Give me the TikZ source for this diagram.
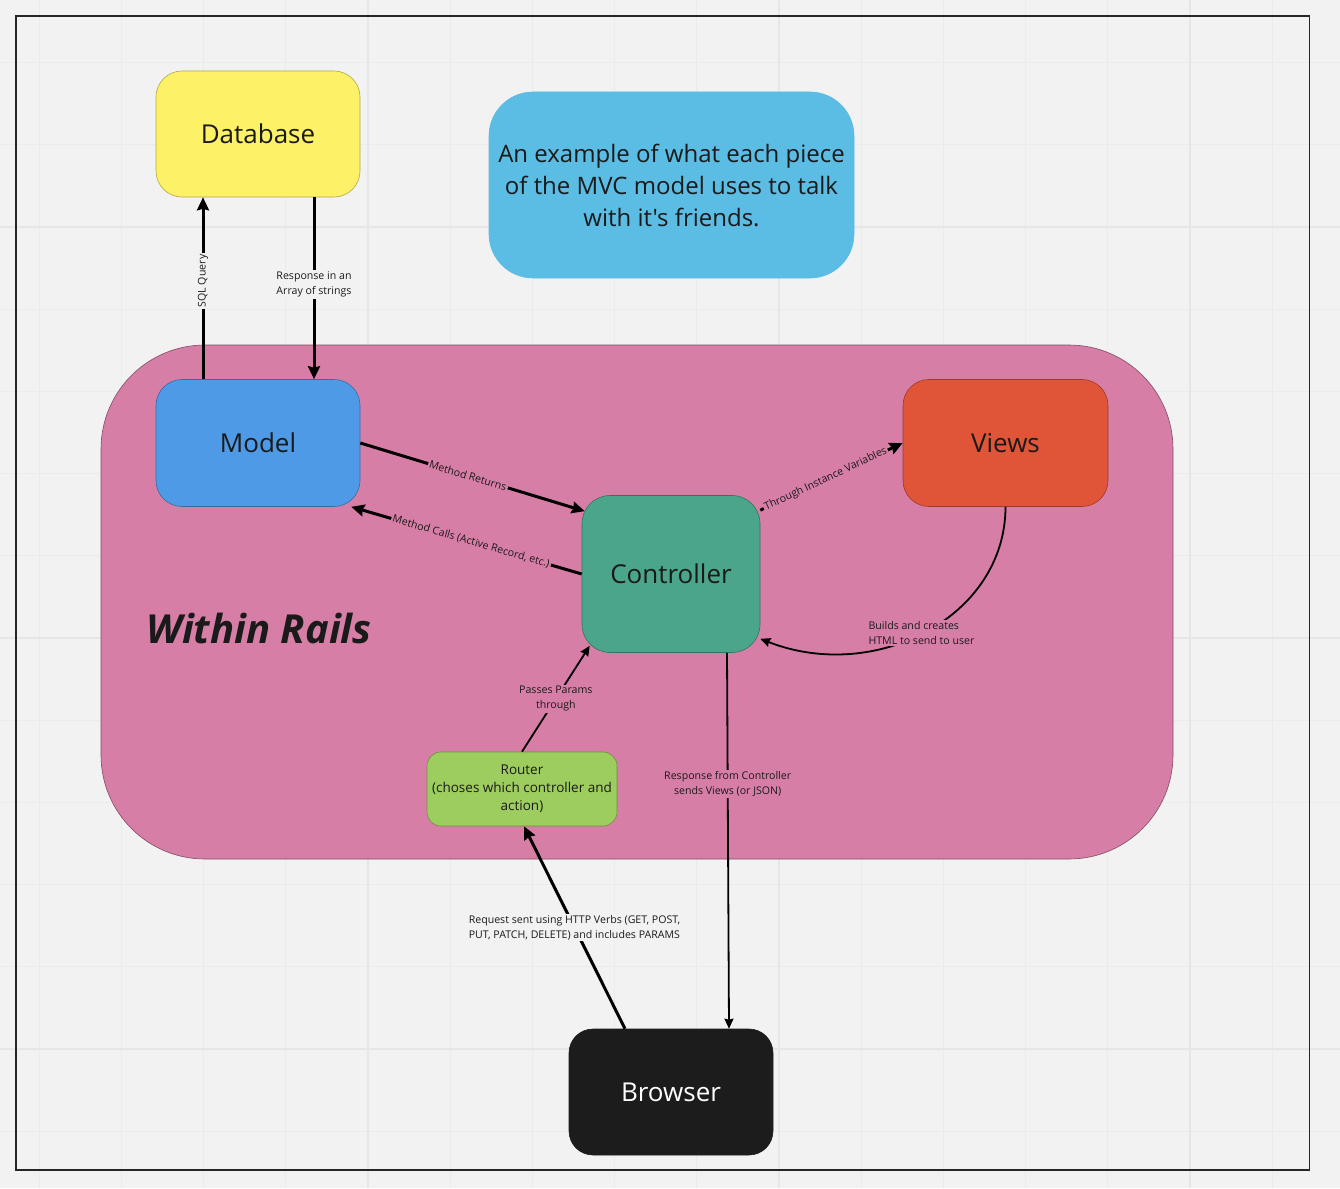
\documentclass[tikz,border=0pt]{standalone}
\usepackage{fontspec}
\setmainfont{Open Sans}[Ligatures=TeXOff]
\usetikzlibrary{arrows.meta,calc}
\definecolor{bgc}{HTML}{F2F2F2}
\definecolor{gridfine}{HTML}{EBEBEB}
\definecolor{gridmain}{HTML}{E6E6E6}
\definecolor{dbc}{HTML}{FDF167}
\definecolor{infoc}{HTML}{5BBCE4}
\definecolor{railsc}{HTML}{D77EA6}
\definecolor{modelc}{HTML}{4F9AE6}
\definecolor{viewsc}{HTML}{E05437}
\definecolor{ctrlc}{HTML}{4BA58B}
\definecolor{routerc}{HTML}{9CCD5E}
\definecolor{browserc}{HTML}{1C1C1C}
\definecolor{txt}{HTML}{1A1A1A}
\tikzset{
  box/.style={rectangle, rounded corners=#1, inner sep=0pt, draw, line width=0.6pt, text=txt, align=center},
  box/.default=24pt,
  bigtext/.style={font=\fontsize{26}{32}\selectfont},
  lbl/.style={font=\fontsize{10.6}{15}\selectfont, inner sep=1.5pt, text=txt, align=center},
  thickarrow/.style={line width=3pt, -{Stealth[length=13pt,width=12pt,inset=1.5pt]}},
  thinarrow/.style={line width=1.8pt, -{Stealth[length=10pt,width=9pt,inset=1pt]}},
}
\begin{document}
\begin{tikzpicture}[x=1pt,y=-1pt]
\useasboundingbox (0,0) rectangle (1340,1188);
\fill[bgc] (0,0) rectangle (1340,1188);
% grid
\foreach \k in {-4,...,11} {
  \pgfmathsetmacro\xx{368+82.2*\k}
  \draw[gridfine, line width=1pt] (\xx,0) -- (\xx,1188);
}
\foreach \k in {-2,...,11} {
  \pgfmathsetmacro\yy{227+82.2*\k}
  \draw[gridfine, line width=1pt] (0,\yy) -- (1340,\yy);
}
\foreach \xx in {368,779,1190} \draw[gridmain, line width=1.3pt] (\xx,0) -- (\xx,1188);
\foreach \yy in {227,638,1049} \draw[gridmain, line width=1.3pt] (0,\yy) -- (1340,\yy);
% frame
\draw[line width=1.3pt, black!85] (16,16) rectangle (1309.5,1170);

% rails region
\node[rectangle, rounded corners=104pt, minimum width=1072pt, minimum height=514pt,
      fill=railsc, draw=railsc!60!black, line width=0.6pt] (rails) at (637,602) {};
\node[font=\fontsize{40}{48}\selectfont\bfseries\itshape, text=txt] (within) at (259,628) {Within Rails};

% nodes
\node[box=26pt, fill=dbc, draw=dbc!70!black, minimum width=204pt, minimum height=126pt, bigtext] (db) at (258,134) {Database};
\node[box=44pt, fill=infoc, draw=infoc, minimum width=365pt, minimum height=186pt,
      font=\fontsize{24}{32}\selectfont] (info) at (671.5,185) {An example of what each piece\\of the MVC model uses to talk\\with it's friends.};
\node[box=26pt, fill=modelc, draw=modelc!70!black, minimum width=204pt, minimum height=127pt, bigtext] (model) at (258,443) {Model};
\node[box=26pt, fill=viewsc, draw=viewsc!70!black, minimum width=205pt, minimum height=127pt, bigtext] (views) at (1005.5,443) {Views};
\node[box=28pt, fill=ctrlc, draw=ctrlc!70!black, minimum width=178pt, minimum height=157pt, bigtext] (ctrl) at (671,574) {Controller};
\node[box=14pt, fill=routerc, draw=routerc!70!black, minimum width=190pt, minimum height=74pt,
      font=\fontsize{13.5}{18}\selectfont] (router) at (522,789) {Router\\(choses which controller and\\action)};
\node[box=24pt, fill=browserc, draw=browserc, minimum width=204pt, minimum height=126pt, bigtext, text=white] (browser) at (671,1092) {Browser};

% connectors
\draw[thickarrow] ([xshift=-55pt]model.north) -- node[lbl, fill=bgc, sloped, pos=0.54] {SQL Query} ([xshift=-55pt]db.south);
\draw[thickarrow] ([xshift=56pt]db.south) -- node[lbl, fill=bgc, pos=0.48] {Response in an\\Array of strings} ([xshift=56pt]model.north);
\draw[thickarrow] (model.east) -- node[lbl, fill=railsc, sloped, pos=0.48] {Method Returns} ([shift={(3pt,-16pt)}]ctrl.north west);
\draw[thickarrow] (ctrl.west) -- node[lbl, fill=railsc, sloped, pos=0.48] {Method Calls (Active Record, etc.)} ([xshift=-9pt]model.south east);
\draw[thickarrow] ([yshift=-15pt]ctrl.north east) -- node[lbl, fill=railsc, sloped, pos=0.46] {Through Instance Variables} (views.west);
\draw[thinarrow] (views.south) .. controls +(0,110) and +(115,45) .. ([yshift=14pt]ctrl.south east);
\node[lbl, fill=railsc, align=left] (buildslbl) at (921.5,633) {Builds and creates\\HTML to send to user};
\draw[thinarrow] (router.north) -- node[lbl, fill=railsc] {Passes Params\\through} ([shift={(8pt,7pt)}]ctrl.south west);
\draw[thinarrow] ([xshift=56pt]ctrl.south) -- node[lbl, fill=railsc, pos=0.35] {Response from Controller\\sends Views (or JSON)} ([xshift=58pt]browser.north);
\draw[thickarrow] ([xshift=-46pt]browser.north) -- node[lbl, fill=bgc, align=left] {Request sent using HTTP Verbs (GET, POST,\\PUT, PATCH, DELETE) and includes PARAMS} ([xshift=2pt]router.south);
\end{tikzpicture}
\end{document}
